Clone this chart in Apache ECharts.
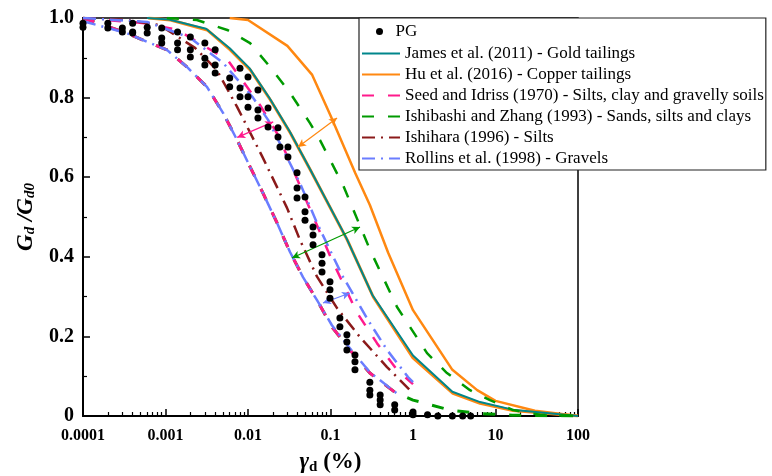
<!DOCTYPE html>
<html><head><meta charset="utf-8">
<script src="https://cdn.jsdelivr.net/npm/echarts@6/dist/echarts.min.js"></script>
<style>html,body{margin:0;padding:0;background:#fff}#c{width:772px;height:476px}</style>
</head><body><div id="c"></div>
<script>
// ---------- data ----------
const xTickLabels = ['0.0001','0.001','0.01','0.1','1','10','100'];
const minorTickStrains = [0.0002,0.0003,0.0004,0.0005,0.0006,0.0007,0.0008,0.0009,
  0.002,0.003,0.004,0.005,0.006,0.007,0.008,0.009,
  0.02,0.03,0.04,0.05,0.06,0.07,0.08,0.09,
  0.2,0.3,0.4,0.5,0.6,0.7,0.8,0.9,
  2,3,4,5,6,7,8,9, 20,30,40,50,60,70,80,90];

const pgPoints = [
 [0.0001,0.987],[0.0001,0.977],
 [0.0002,0.987],[0.0002,0.975],
 [0.0003,0.975],[0.0003,0.965],
 [0.0004,0.987],[0.0004,0.965],[0.0004,0.962],
 [0.0006,0.977],[0.0006,0.962],
 [0.0009,0.975],[0.0009,0.950],[0.0009,0.937],
 [0.0014,0.965],[0.0014,0.937],[0.0014,0.920],
 [0.002,0.952],[0.002,0.920],[0.002,0.902],
 [0.003,0.937],[0.003,0.899],[0.003,0.882],
 [0.004,0.920],[0.004,0.882],[0.004,0.862],
 [0.006,0.849],[0.006,0.827],
 [0.008,0.874],[0.008,0.824],[0.008,0.802],
 [0.01,0.852],[0.01,0.802],[0.01,0.776],
 [0.0132,0.819],[0.0132,0.769],[0.0132,0.749],
 [0.0175,0.774],[0.0175,0.726],
 [0.0231,0.724],[0.0231,0.701],
 [0.0244,0.676],
 [0.0305,0.676],[0.0305,0.651],
 [0.0393,0.611],[0.0393,0.573],[0.0393,0.548],
 [0.0491,0.550],[0.0491,0.513],[0.0491,0.492],
 [0.0614,0.475],[0.0614,0.455],[0.0614,0.430],
 [0.0789,0.405],[0.0789,0.384],[0.0789,0.362],
 [0.0986,0.337],[0.0986,0.317],[0.0986,0.296],
 [0.13,0.246],[0.13,0.224],
 [0.158,0.204],[0.158,0.186],[0.158,0.166],
 [0.198,0.153],[0.198,0.136],[0.198,0.116],
 [0.30,0.085],[0.30,0.065],[0.30,0.053],
 [0.40,0.053],[0.40,0.040],[0.40,0.028],
 [0.6,0.028],[0.6,0.015],
 [1.0,0.010],[1.0,0.003],
 [1.5,0.003],[2,0.0],[3,0.0],[4,0.0],[5,0.0]
];

const jamesCurve = [[0.0006,1.0],[0.0011,0.996],[0.0031,0.973],[0.0060,0.924],[0.0104,0.874],[0.0182,0.799],[0.0318,0.716],[0.0555,0.623],[0.156,0.447],[0.322,0.304],[1.0,0.152],[3.0,0.061],[6.5,0.035],[16,0.016],[100,0.0]];
const huLower = [[0.00062,1.0],[0.00115,0.995],[0.0032,0.970],[0.0061,0.920],[0.0107,0.869],[0.0187,0.794],[0.0326,0.711],[0.057,0.618],[0.16,0.442],[0.33,0.299],[1.0,0.146],[3.05,0.057],[6.5,0.032],[16.3,0.014],[100,0.0]];
const huUpper = [[0.006,1.0],[0.01,0.995],[0.03,0.93],[0.06,0.857],[0.1,0.755],[0.2,0.61],[0.3,0.53],[0.5,0.41],[1,0.266],[3,0.116],[6,0.065],[10,0.038],[30,0.013],[100,0.0]];
const seedLower = [[0.0001,1.0],[0.00034,0.962],[0.0006,0.94],[0.00104,0.92],[0.00182,0.877],[0.00318,0.827],[0.005,0.761],[0.0074,0.693],[0.0106,0.626],[0.0152,0.56],[0.0225,0.485],[0.0323,0.412],[0.0464,0.349],[0.0686,0.291],[0.104,0.224],[0.172,0.166],[0.30,0.108],[0.6,0.06]];
const seedUpper = [[0.0001,1.0],[0.00056,0.987],[0.0014,0.97],[0.0057,0.894],[0.014,0.781],[0.0231,0.706],[0.035,0.62],[0.0564,0.52],[0.1,0.40],[0.209,0.26],[0.366,0.183],[0.64,0.116],[1.0,0.08]];
const ishibashiLower = [[0.0001,1.0],[0.00034,0.962],[0.0006,0.94],[0.00104,0.92],[0.00182,0.877],[0.00318,0.827],[0.005,0.761],[0.0074,0.693],[0.0106,0.626],[0.0152,0.56],[0.0225,0.485],[0.0323,0.412],[0.0464,0.349],[0.0686,0.291],[0.104,0.224],[0.172,0.166],[0.30,0.108],[0.6,0.06],[1.0,0.04],[2.8,0.015],[6.5,0.006],[16,0.002],[100,0.0]];
const ishibashiUpper = [[0.00104,1.0],[0.0024,0.995],[0.0056,0.970],[0.0106,0.937],[0.0185,0.877],[0.0323,0.812],[0.0564,0.736],[0.0746,0.693],[0.142,0.580],[0.302,0.417],[0.64,0.274],[1.48,0.158],[2.58,0.108],[4.91,0.065],[8.57,0.040],[16.3,0.015],[34.7,0.003],[100,0.0]];
const ishiharaCurve = [[0.0001,1.0],[0.00034,0.995],[0.00085,0.982],[0.00228,0.925],[0.0042,0.869],[0.0074,0.776],[0.0148,0.653],[0.0225,0.575],[0.0297,0.523],[0.0427,0.442],[0.0686,0.35],[0.12,0.271],[0.228,0.198],[0.484,0.123],[0.92,0.065]];
const rollinsLower = [[0.0001,0.992],[0.0002,0.975],[0.00034,0.962],[0.0006,0.94],[0.00104,0.92],[0.00182,0.877],[0.00318,0.827],[0.005,0.761],[0.0074,0.693],[0.0106,0.626],[0.0152,0.56],[0.0225,0.485],[0.0323,0.412],[0.0464,0.349],[0.0686,0.291],[0.104,0.228],[0.172,0.17],[0.30,0.11],[0.7,0.05]];
const rollinsUpper = [[0.0001,1.0],[0.0006,0.99],[0.002,0.95],[0.005,0.887],[0.0115,0.80],[0.0175,0.744],[0.0427,0.585],[0.0686,0.485],[0.138,0.354],[0.285,0.241],[0.484,0.166],[0.87,0.098],[1.0,0.085]];

const seedArrow = [[0.0074,0.700],[0.0202,0.739]];
const huArrow = [[0.0404,0.676],[0.12,0.749]];
const ishibashiArrow = [[0.0341,0.397],[0.228,0.475]];
const rollinsArrow = [[0.0811,0.284],[0.172,0.309]];

const names = {
  pg: 'PG',
  james: 'James et al. (2011) - Gold tailings',
  hu: 'Hu et al. (2016) - Copper tailings',
  seed: 'Seed and Idriss (1970) - Silts, clay and gravelly soils',
  ishibashi: 'Ishibashi and Zhang (1993) - Sands, silts and clays',
  ishihara: 'Ishihara (1996) - Silts',
  rollins: 'Rollins et al. (1998) - Gravels'
};
const colors = {james:'#00868b', hu:'#ff8811', seed:'#ff1a8c', ishibashi:'#009a00', ishihara:'#8b1a1a', rollins:'#6a7dff'};

// ---------- chart ----------
const FONT = 'Liberation Serif';
function lineSeries(name, data, color, width, type, arrow) {
  const s = {
    type: 'line', name: name, data: data, symbol: 'none', smooth: false,
    lineStyle: {color: color, width: width, type: type},
    itemStyle: {color: color}, z: 3, animation: false, clip: true
  };
  if (arrow) {
    s.markLine = {
      silent: true, animation: false, symbol: ['arrow','arrow'], symbolSize: [6, 8],
      label: {show: false},
      lineStyle: {color: color, width: 1.2, type: 'solid'},
      data: [[{coord: arrow[0]}, {coord: arrow[1]}]]
    };
  }
  return s;
}
const dash = [12, 14];
const dashDot = [13, 6, 2, 6];

const chart = echarts.init(document.getElementById('c'), null, {renderer: 'canvas'});
chart.setOption({
  animation: false,
  backgroundColor: '#fff',
  grid: {left: 83, right: 194, top: 18, bottom: 60, outerBoundsMode: 'none', containLabel: false,
    show: true, borderColor: '#000', borderWidth: 1.5, backgroundColor: 'transparent'},
  xAxis: [{
    type: 'log', logBase: 10, min: 0.0001, max: 100, splitNumber: 6,
    axisLine: {onZero: false, lineStyle: {color: '#000', width: 2}},
    axisTick: {inside: true, length: 7, lineStyle: {color: '#000', width: 1.5}},
    splitLine: {show: false},
    axisLabel: {fontFamily: FONT, fontWeight: 'bold', fontSize: 16, color: '#000', margin: 12,
      formatter: v => xTickLabels[Math.round(Math.log10(v)) + 4]},
    name: '{g|γ}{s|d}{t| (%)}', nameLocation: 'middle', nameGap: 34,
    nameTextStyle: {rich: {
      g: {fontFamily: FONT, fontWeight: 'bold', fontStyle: 'italic', fontSize: 23, color: '#000'},
      s: {fontFamily: FONT, fontWeight: 'bold', fontSize: 15, color: '#000', padding: [10, 0, 0, 0]},
      t: {fontFamily: FONT, fontWeight: 'bold', fontSize: 23, color: '#000'}
    }}
  }, {
    type: 'value', min: -4, max: 2, position: 'bottom',
    axisLine: {show: false, onZero: false}, axisLabel: {show: false}, splitLine: {show: false},
    axisTick: {show: true, inside: true, length: 4, lineStyle: {color: '#000', width: 1.2},
      customValues: minorTickStrains.map(v => Math.log10(v))}
  }],
  yAxis: {
    type: 'value', min: 0, max: 1, interval: 0.2, position: 'left',
    axisLine: {show: true, onZero: false, lineStyle: {color: '#000', width: 2}},
    axisTick: {show: true, inside: true, length: 7, lineStyle: {color: '#000', width: 1.5}},
    minorTick: {show: true, splitNumber: 2, length: 4, lineStyle: {color: '#000', width: 1.2}},
    splitLine: {show: false},
    axisLabel: {fontFamily: FONT, fontWeight: 'bold', fontSize: 20, color: '#000', margin: 9,
      formatter: v => v === 0 ? '0' : v.toFixed(1)},
    name: '{g|G}{s|d}{g| /G}{s|d0}', nameLocation: 'middle', nameRotate: 90, nameGap: 42,
    nameTextStyle: {rich: {
      g: {fontFamily: FONT, fontWeight: 'bold', fontStyle: 'italic', fontSize: 23, color: '#000'},
      s: {fontFamily: FONT, fontWeight: 'bold', fontStyle: 'italic', fontSize: 15, color: '#000', padding: [10, 0, 0, 0]}
    }}
  },
  legend: [{
    data: [{name: names.pg, icon: 'circle'}],
    left: 376, top: 23, orient: 'vertical', padding: 0,
    itemWidth: 22, itemHeight: 7, itemGap: 0, z: 10,
    itemStyle: {color: '#000', opacity: 1},
    textStyle: {fontFamily: FONT, fontSize: 17, color: '#000'}
  }, {
    data: [names.james, names.hu, names.seed, names.ishibashi, names.ishihara, names.rollins],
    left: 359, top: 18, orient: 'vertical', padding: [27, 2, 3, 2],
    itemWidth: 38, itemHeight: 12, itemGap: 4,
    itemStyle: {opacity: 0},
    borderColor: '#222', borderWidth: 1.2, backgroundColor: '#fff', borderRadius: 0,
    textStyle: {fontFamily: FONT, fontSize: 17, color: '#000'}
  }],
  series: [
    lineSeries(names.hu, huUpper, colors.hu, 2.5, 'solid', huArrow),
    lineSeries(names.hu, huLower, colors.hu, 3, 'solid'),
    lineSeries(names.james, jamesCurve, colors.james, 2, 'solid'),
    lineSeries(names.ishibashi, ishibashiUpper, colors.ishibashi, 2.5, dash, ishibashiArrow),
    lineSeries(names.ishibashi, ishibashiLower, colors.ishibashi, 3, dash),
    lineSeries(names.seed, seedUpper, colors.seed, 2.5, dash, seedArrow),
    lineSeries(names.seed, seedLower, colors.seed, 3, dash),
    lineSeries(names.ishihara, ishiharaCurve, colors.ishihara, 2.5, dashDot),
    lineSeries(names.rollins, rollinsUpper, colors.rollins, 2.5, dashDot, rollinsArrow),
    lineSeries(names.rollins, rollinsLower, colors.rollins, 2.5, dashDot),
    {type: 'scatter', name: names.pg, data: pgPoints, symbol: 'circle', symbolSize: 7,
     itemStyle: {color: '#000', opacity: 1}, z: 5, clip: false, animation: false}
  ]
});
</script></body></html>
